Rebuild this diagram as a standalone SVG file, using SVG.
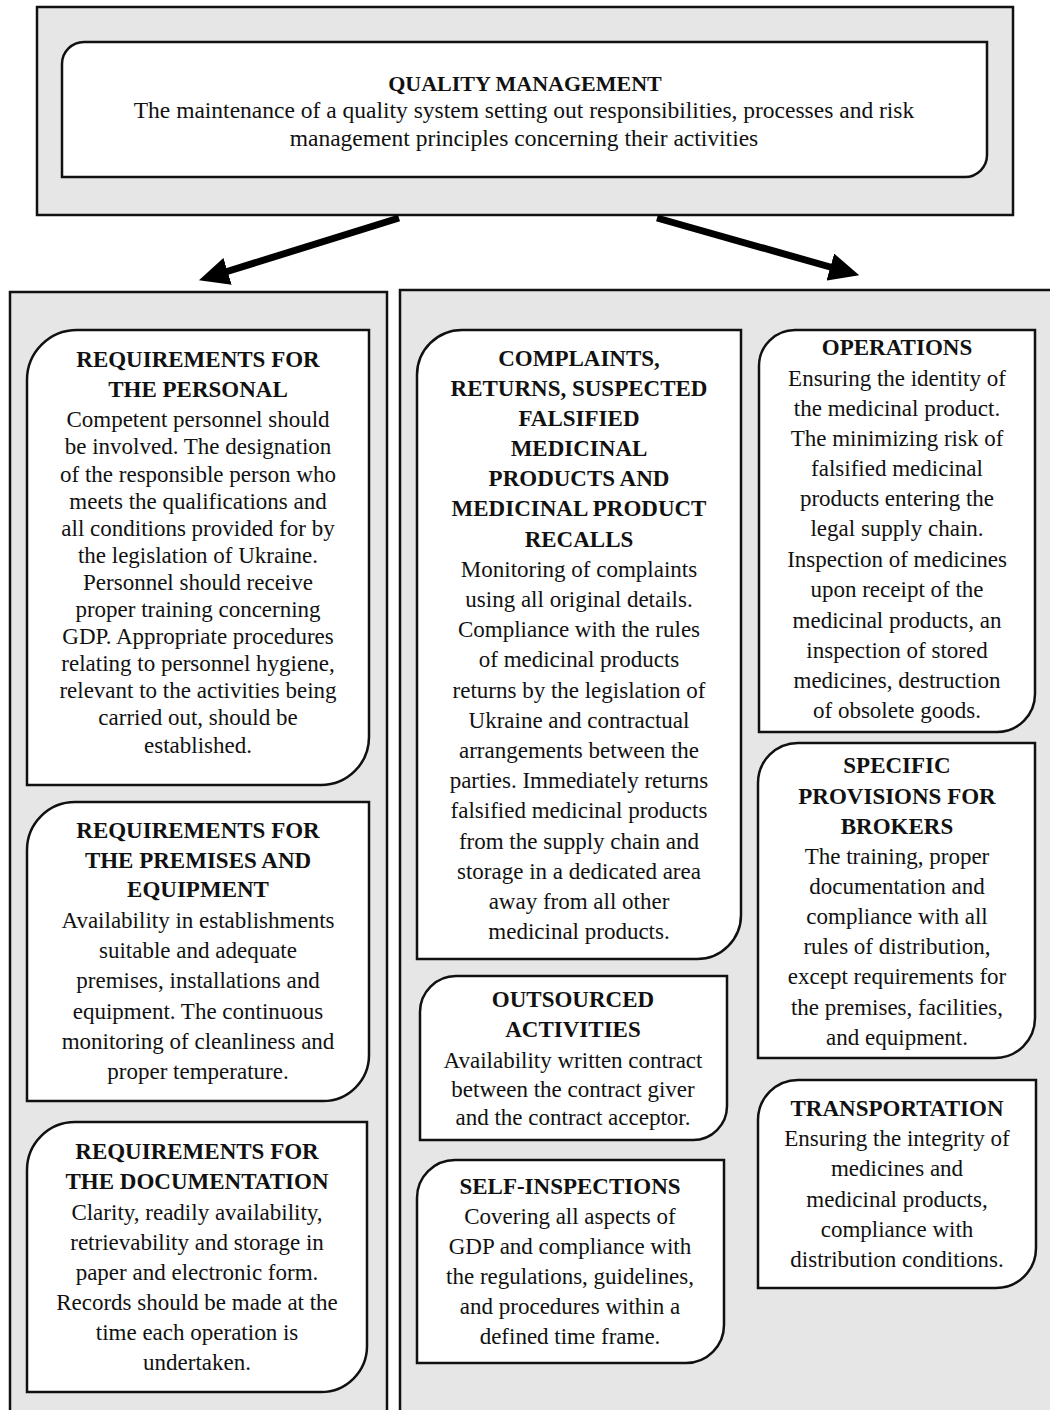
<svg xmlns="http://www.w3.org/2000/svg" width="1053" height="1410" viewBox="0 0 1053 1410">
<style>
.panel{fill:#e7e6e6;stroke:#111;stroke-width:2.5}
.node{fill:#fff;stroke:#111;stroke-width:2.5}
text{font-family:"Liberation Serif","Times New Roman",serif;fill:#111;text-anchor:middle}
.t{font-weight:bold;font-size:23px}
.b{font-size:23px}
.tt{font-weight:bold;font-size:22px}
.tb{font-size:23.5px}
.arrow{stroke:#000;stroke-width:7;fill:none}
</style>
<defs>
<marker id="ah" markerUnits="userSpaceOnUse" markerWidth="32" markerHeight="28" refX="9" refY="14" orient="auto">
<path d="M0,0 L30,14 L0,28 z" fill="#000"/>
</marker>
</defs>
<rect width="1053" height="1410" fill="#fff"/>

<g id="top">
<rect class="panel" x="37" y="7" width="976" height="208" stroke-width="3"/>
<path class="node" d="M84,42 H987 V155 A22,22 0 0 1 965,177 H62 V64 A22,22 0 0 1 84,42 Z"/>
<text class="tt" x="525" y="91">QUALITY MANAGEMENT</text>
<text class="tb" x="524" y="118">The maintenance of a quality system setting out responsibilities, processes and risk</text>
<text class="tb" x="524" y="146">management principles concerning their activities</text>
</g>

<g id="connectors">
<line class="arrow" x1="399" y1="218" x2="219" y2="274" marker-end="url(#ah)"/>
<line class="arrow" x1="657" y1="218" x2="839" y2="269.5" marker-end="url(#ah)"/>
</g>

<g id="left-panel">
<path class="panel" d="M10,1420 V292 H387 V1420"/>
</g>
<g id="right-panel">
<rect x="400" y="290" width="650" height="1130" fill="#e7e6e6"/>
<path d="M400,1420 V290 H1050" fill="none" stroke="#111" stroke-width="2.5"/>
</g>

<g id="personal">
<path class="node" d="M77,330 H369 V737 A48,48 0 0 1 321,785 H27 V380 A50,50 0 0 1 77,330 Z"/>
<text class="t" x="198" y="367">REQUIREMENTS FOR</text>
<text class="t" x="198" y="397">THE PERSONAL</text>
<text class="b" x="198" y="427">Competent personnel should</text>
<text class="b" x="198" y="454">be involved. The designation</text>
<text class="b" x="198" y="482">of the responsible person who</text>
<text class="b" x="198" y="509">meets the qualifications and</text>
<text class="b" x="198" y="536">all conditions provided for by</text>
<text class="b" x="198" y="563">the legislation of Ukraine.</text>
<text class="b" x="198" y="590">Personnel should receive</text>
<text class="b" x="198" y="617">proper training concerning</text>
<text class="b" x="198" y="644">GDP. Appropriate procedures</text>
<text class="b" x="198" y="671">relating to personnel hygiene,</text>
<text class="b" x="198" y="698">relevant to the activities being</text>
<text class="b" x="198" y="725">carried out, should be</text>
<text class="b" x="198" y="753">established.</text>
</g>

<g id="premises">
<path class="node" d="M75,802 H369 V1055 A46,46 0 0 1 323,1101 H27 V850 A48,48 0 0 1 75,802 Z"/>
<text class="t" x="198" y="838">REQUIREMENTS FOR</text>
<text class="t" x="198" y="868">THE PREMISES AND</text>
<text class="t" x="198" y="897">EQUIPMENT</text>
<text class="b" x="198" y="928">Availability in establishments</text>
<text class="b" x="198" y="958">suitable and adequate</text>
<text class="b" x="198" y="988">premises, installations and</text>
<text class="b" x="198" y="1019">equipment. The continuous</text>
<text class="b" x="198" y="1049">monitoring of cleanliness and</text>
<text class="b" x="198" y="1079">proper temperature.</text>
</g>

<g id="documentation">
<path class="node" d="M75,1122 H367 V1346 A46,46 0 0 1 321,1392 H27 V1170 A48,48 0 0 1 75,1122 Z"/>
<text class="t" x="197" y="1159">REQUIREMENTS FOR</text>
<text class="t" x="197" y="1189">THE DOCUMENTATION</text>
<text class="b" x="197" y="1220">Clarity, readily availability,</text>
<text class="b" x="197" y="1250">retrievability and storage in</text>
<text class="b" x="197" y="1280">paper and electronic form.</text>
<text class="b" x="197" y="1310">Records should be made at the</text>
<text class="b" x="197" y="1340">time each operation is</text>
<text class="b" x="197" y="1370">undertaken.</text>
</g>

<g id="complaints">
<path class="node" d="M462,330 H741 V915 A44,44 0 0 1 697,959 H417 V375 A45,45 0 0 1 462,330 Z"/>
<text class="t" x="579" y="366">COMPLAINTS,</text>
<text class="t" x="579" y="396">RETURNS, SUSPECTED</text>
<text class="t" x="579" y="426">FALSIFIED</text>
<text class="t" x="579" y="456">MEDICINAL</text>
<text class="t" x="579" y="486">PRODUCTS AND</text>
<text class="t" x="579" y="516">MEDICINAL PRODUCT</text>
<text class="t" x="579" y="547">RECALLS</text>
<text class="b" x="579" y="577">Monitoring of complaints</text>
<text class="b" x="579" y="607">using all original details.</text>
<text class="b" x="579" y="637">Compliance with the rules</text>
<text class="b" x="579" y="667">of medicinal products</text>
<text class="b" x="579" y="698">returns by the legislation of</text>
<text class="b" x="579" y="728">Ukraine and contractual</text>
<text class="b" x="579" y="758">arrangements between the</text>
<text class="b" x="579" y="788">parties. Immediately returns</text>
<text class="b" x="579" y="818">falsified medicinal products</text>
<text class="b" x="579" y="849">from the supply chain and</text>
<text class="b" x="579" y="879">storage in a dedicated area</text>
<text class="b" x="579" y="909">away from all other</text>
<text class="b" x="579" y="939">medicinal products.</text>
</g>

<g id="operations">
<path class="node" d="M795,330 H1035 V694 A38,38 0 0 1 997,732 H759 V366 A36,36 0 0 1 795,330 Z"/>
<text class="t" x="897" y="355">OPERATIONS</text>
<text class="b" x="897" y="386">Ensuring the identity of</text>
<text class="b" x="897" y="416">the medicinal product.</text>
<text class="b" x="897" y="446">The minimizing risk of</text>
<text class="b" x="897" y="476">falsified medicinal</text>
<text class="b" x="897" y="506">products entering the</text>
<text class="b" x="897" y="536">legal supply chain.</text>
<text class="b" x="897" y="567">Inspection of medicines</text>
<text class="b" x="897" y="597">upon receipt of the</text>
<text class="b" x="897" y="628">medicinal products, an</text>
<text class="b" x="897" y="658">inspection of stored</text>
<text class="b" x="897" y="688">medicines, destruction</text>
<text class="b" x="897" y="718">of obsolete goods.</text>
</g>

<g id="brokers">
<path class="node" d="M798,743 H1035 V1018 A40,40 0 0 1 995,1058 H758 V783 A40,40 0 0 1 798,743 Z"/>
<text class="t" x="897" y="773">SPECIFIC</text>
<text class="t" x="897" y="804">PROVISIONS FOR</text>
<text class="t" x="897" y="834">BROKERS</text>
<text class="b" x="897" y="864">The training, proper</text>
<text class="b" x="897" y="894">documentation and</text>
<text class="b" x="897" y="924">compliance with all</text>
<text class="b" x="897" y="954">rules of distribution,</text>
<text class="b" x="897" y="984">except requirements for</text>
<text class="b" x="897" y="1015">the premises, facilities,</text>
<text class="b" x="897" y="1045">and equipment.</text>
</g>

<g id="transportation">
<path class="node" d="M798,1080 H1036 V1248 A40,40 0 0 1 996,1288 H758 V1120 A40,40 0 0 1 798,1080 Z"/>
<text class="t" x="897" y="1116">TRANSPORTATION</text>
<text class="b" x="897" y="1146">Ensuring the integrity of</text>
<text class="b" x="897" y="1176">medicines and</text>
<text class="b" x="897" y="1207">medicinal products,</text>
<text class="b" x="897" y="1237">compliance with</text>
<text class="b" x="897" y="1267">distribution conditions.</text>
</g>

<g id="outsourced">
<path class="node" d="M456,976 H727 V1106 A34,34 0 0 1 693,1140 H420 V1012 A36,36 0 0 1 456,976 Z"/>
<text class="t" x="573" y="1007">OUTSOURCED</text>
<text class="t" x="573" y="1037">ACTIVITIES</text>
<text class="b" x="573" y="1068">Availability  written contract</text>
<text class="b" x="573" y="1097">between the contract giver</text>
<text class="b" x="573" y="1125">and the contract acceptor.</text>
</g>

<g id="self-inspections">
<path class="node" d="M455,1160 H724 V1325 A38,38 0 0 1 686,1363 H417 V1198 A38,38 0 0 1 455,1160 Z"/>
<text class="t" x="570" y="1194">SELF-INSPECTIONS</text>
<text class="b" x="570" y="1224">Covering all aspects of</text>
<text class="b" x="570" y="1254">GDP and compliance with</text>
<text class="b" x="570" y="1284">the regulations, guidelines,</text>
<text class="b" x="570" y="1314">and procedures within a</text>
<text class="b" x="570" y="1344">defined time frame.</text>
</g>
</svg>
